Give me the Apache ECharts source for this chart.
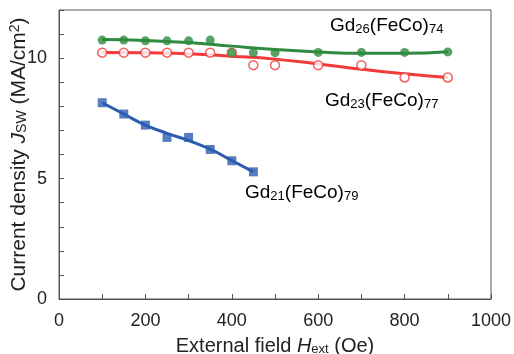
<!DOCTYPE html>
<html>
<head>
<meta charset="utf-8">
<script src="https://cdn.jsdelivr.net/npm/echarts@6/dist/echarts.min.js"></script>
<style>
  html, body { margin: 0; padding: 0; background: #fff; }
  #chart { width: 514px; height: 354px; }
</style>
</head>
<body>
<div id="chart"></div>
<script>
// measured points (field in Oe, Jsw in MA/cm2)
const gd26Field = [100, 150, 200, 250, 300, 350, 400, 450, 500, 600, 700, 800, 900];
const gd26Jsw = [10.75, 10.75, 10.72, 10.72, 10.72, 10.75, 10.23, 10.23, 10.23, 10.24, 10.24, 10.24, 10.26];

const gd23Field = [100, 150, 200, 250, 300, 350, 400, 450, 500, 600, 700, 800, 900];
const gd23Jsw = [10.23, 10.23, 10.23, 10.23, 10.23, 10.23, 10.23, 9.71, 9.71, 9.71, 9.71, 9.2, 9.2];

const gd21Field = [100, 150, 200, 250, 300, 350, 400, 450];
const gd21Jsw = [8.15, 7.68, 7.22, 6.71, 6.71, 6.21, 5.74, 5.28];

// fitted trend lines
const fitField = [100, 200, 300, 400, 500, 600, 700, 800, 900];
const gd26Fit = [10.77, 10.73, 10.65, 10.5, 10.36, 10.26, 10.2, 10.2, 10.27];
const gd23Fit = [10.24, 10.22, 10.18, 10.08, 9.96, 9.76, 9.54, 9.35, 9.2];
const gd21FitField = [100, 150, 200, 250, 300, 350, 400, 450];
const gd21Fit = [8.15, 7.68, 7.22, 6.88, 6.58, 6.22, 5.75, 5.28];

const GREEN = "#2e8b3f";
const RED = "#f23a3a";
const BLUE = "#2c5caf";
const FONT = "Liberation Sans";

const pair = (xs, ys) => xs.map((x, i) => [x, ys[i]]);

const rich = {
  n: { fontSize: 19, fontFamily: FONT, color: "#222", lineHeight: 24 },
  s: { fontSize: 13, fontFamily: FONT, color: "#222", lineHeight: 24, padding: [7, 0, 0, 0] }
};
const xNameRich = {
  n: { fontSize: 20, fontFamily: FONT, color: "#222", lineHeight: 24 },
  i: { fontSize: 20, fontFamily: FONT, color: "#222", fontStyle: "italic", lineHeight: 24 },
  s: { fontSize: 13, fontFamily: FONT, color: "#222", lineHeight: 24, padding: [7, 0, 0, 0] }
};
const yNameRich = {
  n: { fontSize: 21, fontFamily: FONT, color: "#222", lineHeight: 24 },
  i: { fontSize: 21, fontFamily: FONT, color: "#222", fontStyle: "italic", lineHeight: 24 },
  s: { fontSize: 14, fontFamily: FONT, color: "#222", lineHeight: 24, padding: [7, 0, 0, 0] },
  sup: { fontSize: 14, fontFamily: FONT, color: "#222", lineHeight: 24, padding: [0, 0, 7, 0] }
};

const chart = echarts.init(document.getElementById("chart"));

chart.setOption({
  animation: false,
  grid: {
    left: 59, right: 23, top: 10, bottom: 55,
    outerBoundsMode: "none",
    containLabel: false,
    show: true, borderColor: "#555", borderWidth: 1
  },
  xAxis: {
    type: "value",
    min: 0, max: 1000, interval: 100,
    axisLine: { show: true, lineStyle: { color: "#555" } },
    axisTick: { inside: true, length: 5, lineStyle: { color: "#555" } },
    splitLine: { show: false },
    axisLabel: {
      fontSize: 18, fontFamily: FONT, color: "#222", margin: 13,
      formatter: v => (v % 200 === 0 ? String(v) : "")
    },
    name: "{n|External field }{i|H}{s|ext}{n| (Oe)}",
    nameLocation: "middle",
    nameGap: 35,
    nameMoveOverlap: false,
    nameTextStyle: { rich: xNameRich }
  },
  yAxis: {
    type: "value",
    min: 0, max: 12, interval: 1,
    axisLine: { show: true, lineStyle: { color: "#555" } },
    axisTick: { inside: true, length: 5, lineStyle: { color: "#555" } },
    splitLine: { show: false },
    axisLabel: {
      fontSize: 18, fontFamily: FONT, color: "#222", margin: 12,
      formatter: v => (v % 5 === 0 ? String(v) : "")
    },
    name: "{n|Current density }{i|J}{s|SW}{n| (MA/cm}{sup|2}{n|)}",
    nameLocation: "middle",
    nameGap: 28,
    nameMoveOverlap: false,
    nameTextStyle: { rich: yNameRich }
  },
  graphic: [
    { type: "text", left: 330, top: 16,
      style: { text: "{n|Gd}{s|26}{n|(FeCo)}{s|74}", rich } },
    { type: "text", left: 325, top: 91,
      style: { text: "{n|Gd}{s|23}{n|(FeCo)}{s|77}", rich } },
    { type: "text", left: 245, top: 183,
      style: { text: "{n|Gd}{s|21}{n|(FeCo)}{s|79}", rich } }
  ],
  series: [
    { type: "line", data: pair(fitField, gd23Fit), smooth: true, showSymbol: false,
      lineStyle: { color: RED, width: 3 }, z: 2 },
    { type: "line", data: pair(fitField, gd26Fit), smooth: true, showSymbol: false,
      lineStyle: { color: GREEN, width: 3 }, z: 2 },
    { type: "line", data: pair(gd21FitField, gd21Fit), smooth: true, showSymbol: false,
      lineStyle: { color: BLUE, width: 3 }, z: 2 },
    { type: "scatter", data: pair(gd23Field, gd23Jsw), symbol: "circle", symbolSize: 9,
      itemStyle: { color: "#fff", borderColor: RED, borderWidth: 1.5 }, z: 3 },
    { type: "scatter", data: pair(gd26Field, gd26Jsw), symbol: "circle", symbolSize: 9,
      itemStyle: { color: GREEN }, z: 4 },
    { type: "scatter", data: pair(gd21Field, gd21Jsw), symbol: "rect", symbolSize: 9,
      itemStyle: { color: BLUE }, z: 4 }
  ]
});
</script>
</body>
</html>
